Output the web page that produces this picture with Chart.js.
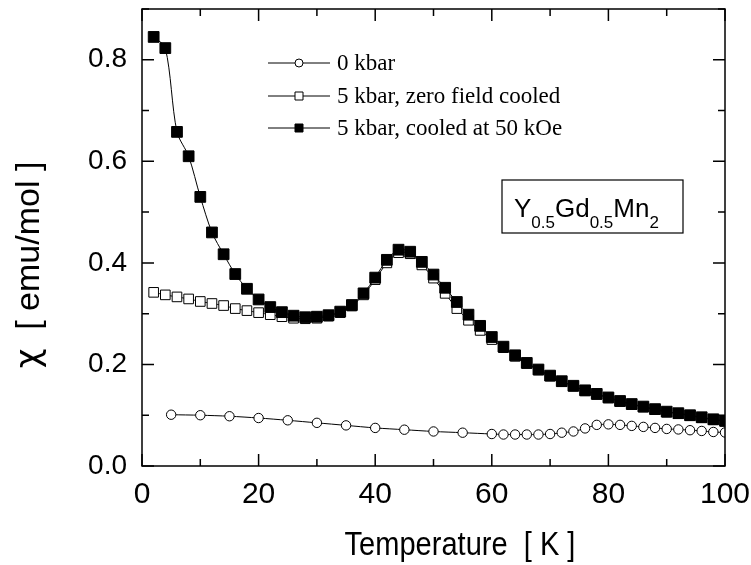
<!DOCTYPE html>
<html>
<head>
<meta charset="utf-8">
<script src="https://cdn.jsdelivr.net/npm/chart.js@4"></script>
<style>
  body { margin: 0; background: #fff; }
  #wrap { width: 751px; height: 565px; }
</style>
</head>
<body>
<div id="wrap"><canvas id="chiChart" width="751" height="565"></canvas></div>
<script>
// 0 kbar
const tempZero = [5, 10, 15, 20, 25, 30, 35, 40, 45, 50, 55, 60, 62, 64, 66, 68, 70, 72, 74, 76, 78, 80, 82, 84, 86, 88, 90, 92, 94, 96, 98, 100];
const chiZero = [0.101, 0.100, 0.098, 0.0945, 0.090, 0.085, 0.080, 0.075, 0.0715, 0.068, 0.0656, 0.063, 0.062, 0.062, 0.062, 0.062, 0.063, 0.0656, 0.068, 0.074, 0.081, 0.082, 0.081, 0.079, 0.077, 0.075, 0.073, 0.072, 0.0705, 0.069, 0.067, 0.066];

// 5 kbar, zero field cooled
const tempZfc = [2, 4, 6, 8, 10, 12, 14, 16, 18, 20, 22, 24, 26, 28, 30, 32, 34, 36, 38, 40, 42, 44, 46, 48, 50, 52, 54, 56, 58, 60, 62, 64, 66, 68, 70, 72, 74, 76, 78, 80, 82, 84, 86, 88, 90, 92, 94, 96, 98, 100];
const chiZfc = [0.342, 0.337, 0.333, 0.329, 0.324, 0.320, 0.316, 0.310, 0.306, 0.302, 0.298, 0.294, 0.291, 0.290, 0.291, 0.295, 0.302, 0.315, 0.337, 0.367, 0.400, 0.420, 0.418, 0.396, 0.370, 0.340, 0.310, 0.287, 0.267, 0.249, 0.233, 0.216, 0.202, 0.189, 0.177, 0.166, 0.157, 0.148, 0.141, 0.134, 0.127, 0.121, 0.116, 0.111, 0.106, 0.103, 0.099, 0.095, 0.091, 0.088];

// 5 kbar, cooled at 50 kOe
const tempFc = [2, 4, 6, 8, 10, 12, 14, 16, 18, 20, 22, 24, 26, 28, 30, 32, 34, 36, 38, 40, 42, 44, 46, 48, 50, 52, 54, 56, 58, 60, 62, 64, 66, 68, 70, 72, 74, 76, 78, 80, 82, 84, 86, 88, 90, 92, 94, 96, 98, 100];
const chiFc = [0.845, 0.823, 0.658, 0.610, 0.530, 0.460, 0.417, 0.378, 0.349, 0.328, 0.313, 0.303, 0.296, 0.293, 0.294, 0.297, 0.304, 0.317, 0.340, 0.371, 0.406, 0.426, 0.422, 0.402, 0.377, 0.351, 0.323, 0.298, 0.276, 0.254, 0.235, 0.218, 0.203, 0.190, 0.178, 0.167, 0.158, 0.149, 0.142, 0.135, 0.128, 0.122, 0.117, 0.112, 0.107, 0.104, 0.100, 0.096, 0.092, 0.089];

const xTicks = [0, 20, 40, 60, 80, 100];
const yTicks = [0.0, 0.2, 0.4, 0.6, 0.8];
const seriesNames = ['0 kbar', '5 kbar, zero field cooled', '5 kbar, cooled at 50 kOe'];

const sansFont = '"Liberation Sans", Arial, sans-serif';
const serifFont = '"Liberation Serif", "Times New Roman", serif';

function pts(xs, ys) {
    return xs.map((x, i) => ({ x: x, y: ys[i] }));
}

// pas de marge automatique pour les étiquettes qui débordent
function noPad(scale) {
    scale.paddingTop = 0;
    scale.paddingBottom = 0;
    scale.paddingLeft = 0;
    scale.paddingRight = 0;
}

// cadre, graduations, titres, légende et étiquette du composé
const framePlugin = {
    id: 'frame',
    afterDraw(chart) {
        const ctx = chart.ctx;
        const a = chart.chartArea;
        const xs = chart.scales.x, ys = chart.scales.y;
        ctx.save();
        ctx.strokeStyle = '#000';
        ctx.lineWidth = 1.5;
        ctx.strokeRect(a.left, a.top, a.right - a.left, a.bottom - a.top);
        ctx.beginPath();
        for (let v = 0; v <= 100; v += 10) {
            const px = xs.getPixelForValue(v);
            const len = v % 20 === 0 ? 12 : 7;
            ctx.moveTo(px, a.bottom); ctx.lineTo(px, a.bottom - len);
            ctx.moveTo(px, a.top); ctx.lineTo(px, a.top + len);
        }
        for (let k = 0; k <= 9; k++) {
            const py = ys.getPixelForValue(k / 10);
            const len = k % 2 === 0 ? 12 : 7;
            ctx.moveTo(a.left, py); ctx.lineTo(a.left + len, py);
            ctx.moveTo(a.right, py); ctx.lineTo(a.right - len, py);
        }
        ctx.stroke();

        // titres des axes
        ctx.fillStyle = '#000';
        ctx.textAlign = 'center';
        ctx.textBaseline = 'alphabetic';
        ctx.save();
        ctx.translate(460, 555);
        ctx.scale(0.88, 1);
        ctx.font = '33px ' + sansFont;
        ctx.fillText('Temperature  [ K ]', 0, 0);
        ctx.restore();

        ctx.save();
        ctx.translate(39, 265);
        ctx.rotate(-Math.PI / 2);
        ctx.textAlign = 'left';
        const chi = 'χ';
        const rest = '  [ emu/mol ]';
        ctx.font = '34px ' + sansFont;
        const wRest = ctx.measureText(rest).width;
        ctx.font = '34px "DejaVu Sans", sans-serif';
        const wChi = ctx.measureText(chi).width;
        const x0 = -(wChi + wRest) / 2;
        ctx.fillText(chi, x0, 0);
        ctx.font = '34px ' + sansFont;
        ctx.fillText(rest, x0 + wChi, 0);
        ctx.restore();

        // légende
        const rows = [63, 96, 128];
        chart.data.datasets.forEach((ds, i) => {
            const y = rows[i];
            ctx.lineWidth = 1;
            ctx.beginPath();
            ctx.moveTo(268, y); ctx.lineTo(330, y);
            ctx.stroke();
            ctx.fillStyle = ds.pointBackgroundColor;
            ctx.beginPath();
            if (ds.pointStyle === 'circle') {
                ctx.arc(299, y, 4, 0, Math.PI * 2);
            } else {
                ctx.rect(295, y - 4, 8, 8);
            }
            ctx.fill();
            ctx.stroke();
            ctx.fillStyle = '#000';
            ctx.font = '23px ' + serifFont;
            ctx.textBaseline = 'middle';
            ctx.textAlign = 'left';
            ctx.fillText(seriesNames[i], 337, y + 1);
        });

        // Y0.5Gd0.5Mn2
        ctx.lineWidth = 1.2;
        ctx.strokeRect(502, 180, 181, 53);
        const parts = [['Y', 0], ['0.5', 1], ['Gd', 0], ['0.5', 1], ['Mn', 0], ['2', 1]];
        let x = 514;
        ctx.textBaseline = 'alphabetic';
        ctx.textAlign = 'left';
        parts.forEach(([t, sub]) => {
            ctx.font = (sub ? '17px ' : '26px ') + sansFont;
            ctx.fillText(t, x, sub ? 228 : 217);
            x += ctx.measureText(t).width;
        });
        ctx.restore();
    }
};

const ctx = document.getElementById('chiChart').getContext('2d');
const chiChart = new Chart(ctx, {
    type: 'scatter',
    data: {
        datasets: [
            {
                label: seriesNames[0],
                data: pts(tempZero, chiZero),
                showLine: true,
                borderColor: '#000',
                borderWidth: 1,
                tension: 0.3,
                pointStyle: 'circle',
                pointRadius: 4.7,
                pointBorderWidth: 1,
                pointBorderColor: '#000',
                pointBackgroundColor: '#fff',
                order: 3
            },
            {
                label: seriesNames[1],
                data: pts(tempZfc, chiZfc),
                showLine: true,
                borderColor: '#000',
                borderWidth: 1,
                tension: 0.3,
                pointStyle: 'rect',
                pointRadius: 6.8,
                pointBorderWidth: 1,
                pointBorderColor: '#000',
                pointBackgroundColor: '#fff',
                order: 2
            },
            {
                label: seriesNames[2],
                data: pts(tempFc, chiFc),
                showLine: true,
                borderColor: '#000',
                borderWidth: 1,
                tension: 0.3,
                pointStyle: 'rect',
                pointRadius: 7.6,
                pointBorderWidth: 1,
                pointBorderColor: '#000',
                pointBackgroundColor: '#000',
                order: 1
            }
        ]
    },
    options: {
        responsive: false,
        animation: false,
        layout: { padding: { top: 9, right: 26, left: 0, bottom: 0 } },
        plugins: {
            legend: { display: false },
            tooltip: { enabled: false }
        },
        scales: {
            x: {
                type: 'linear',
                min: 0,
                max: 100,
                afterFit(scale) { scale.height = 99; noPad(scale); },
                afterBuildTicks(scale) { scale.ticks = xTicks.map(v => ({ value: v })); },
                grid: { display: false, drawTicks: false },
                border: { display: false },
                ticks: {
                    color: '#000',
                    padding: 11,
                    maxRotation: 0,
                    font: { family: sansFont, size: 30 },
                    callback: v => String(v)
                }
            },
            y: {
                type: 'linear',
                min: 0,
                max: 0.9,
                afterFit(scale) { scale.width = 142; noPad(scale); },
                afterBuildTicks(scale) { scale.ticks = yTicks.map(v => ({ value: v })); },
                grid: { display: false, drawTicks: false },
                border: { display: false },
                ticks: {
                    color: '#000',
                    padding: 15,
                    font: { family: sansFont, size: 28 },
                    callback: v => v.toFixed(1)
                }
            }
        }
    },
    plugins: [framePlugin]
});
</script>
</body>
</html>
